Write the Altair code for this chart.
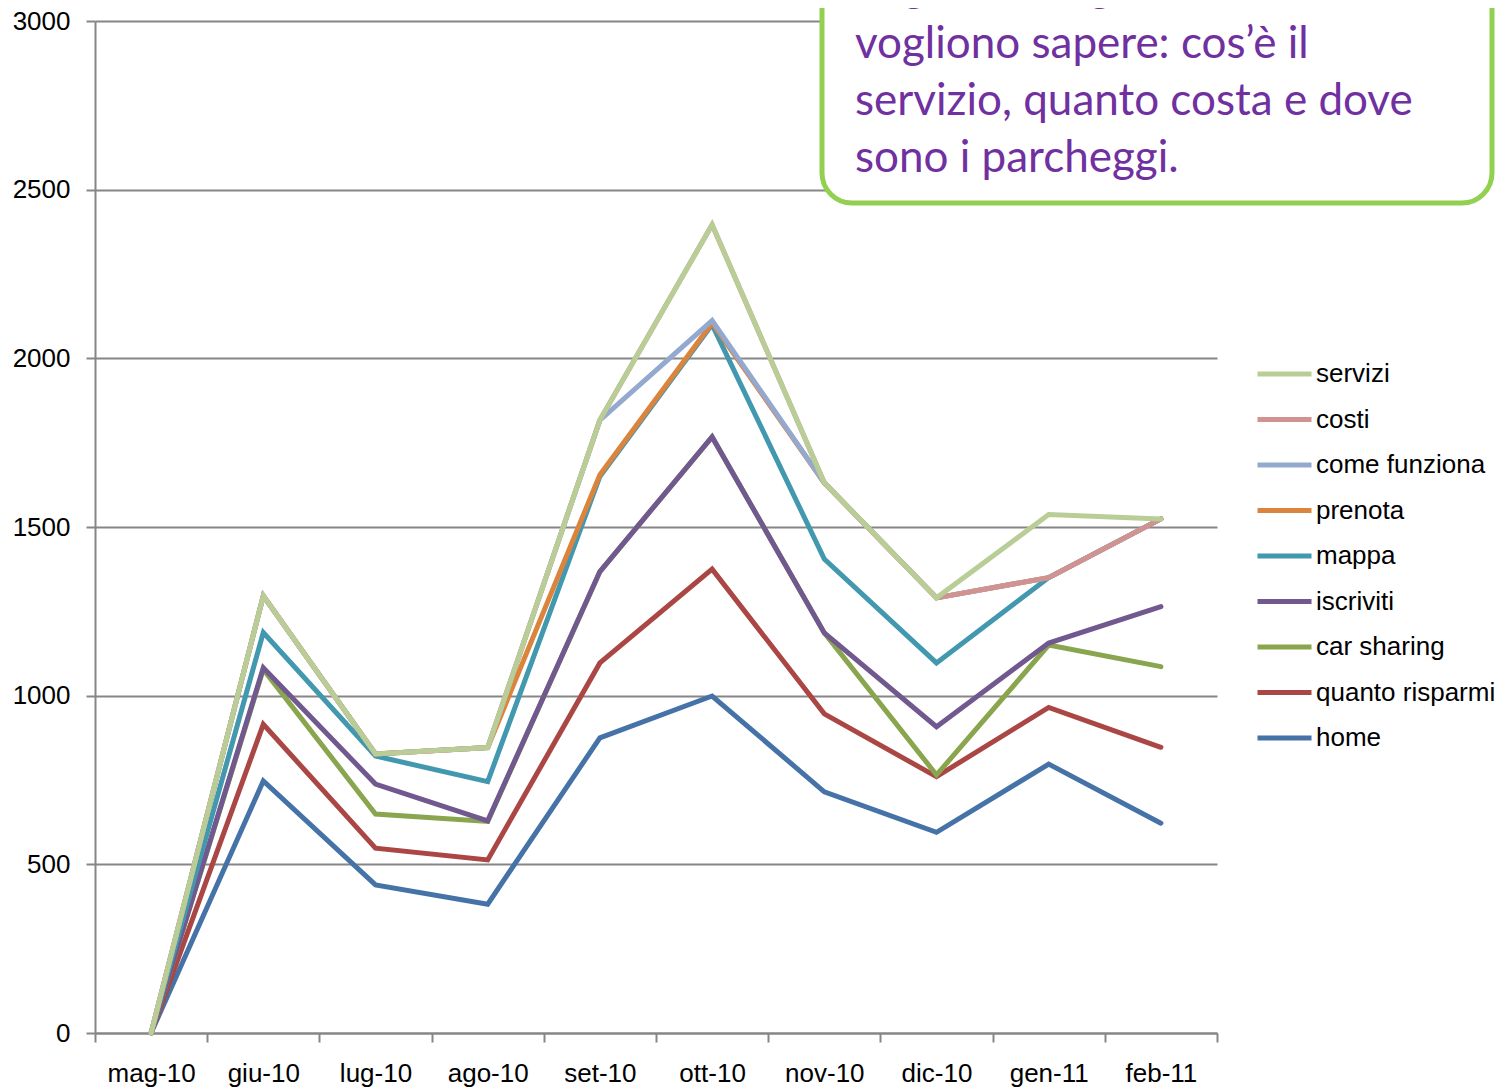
import altair as alt
import pandas as pd

# ---- data ----
months = ["mag-10", "giu-10", "lug-10", "ago-10", "set-10",
          "ott-10", "nov-10", "dic-10", "gen-11", "feb-11"]

series_names = ["servizi", "costi", "come funziona", "prenota", "mappa",
                "iscriviti", "car sharing", "quanto risparmi", "home"]
series_colors = ["#B9CD96", "#D19392", "#93A9CF", "#DB843D", "#4198AF",
                 "#71588F", "#89A54E", "#AA4643", "#4572A7"]

servizi         = [0, 1296, 827, 846, 1817, 2396, 1631, 1290, 1537, 1524]
costi           = [0, 1296, 827, 846, 1817, 2396, 1631, 1290, 1350, 1524]
come_funziona   = [0, 1296, 827, 846, 1817, 2112, 1631, 1290, 1350, 1524]
prenota         = [0, 1296, 827, 846, 1655, 2105, 1631, 1290, 1350, 1524]
mappa           = [0, 1187, 821, 745, 1650, 2100, 1405, 1097, 1350, 1524]
iscriviti       = [0, 1083, 738, 629, 1368, 1767, 1186, 908, 1156, 1264]
car_sharing     = [0, 1078, 649, 627, 1368, 1767, 1186, 765, 1150, 1086]
quanto_risparmi = [0, 915, 548, 513, 1097, 1375, 946, 760, 965, 847]
home            = [0, 747, 439, 382, 875, 999, 715, 595, 797, 622]

series_values = [servizi, costi, come_funziona, prenota, mappa,
                 iscriviti, car_sharing, quanto_risparmi, home]

y_ticks = [0, 500, 1000, 1500, 2000, 2500, 3000]

box_lines = ["In generale, gli utenti",
             "vogliono sapere: cos’è il",
             "servizio, quanto costa e dove",
             "sono i parcheggi."]

# ---- long table; home first so servizi is drawn on top ----
rows = []
for name, vals in reversed(list(zip(series_names, series_values))):
    for m, v in zip(months, vals):
        rows.append({"mese": m, "serie": name, "visite": v})
df = pd.DataFrame(rows)

FONT = "Liberation Sans"
GREY = "#868686"

lines = alt.Chart(df).mark_line(strokeWidth=5, strokeCap="round", strokeJoin="miter").encode(
    x=alt.X("mese:N", sort=months, bandPosition=0.5,
            scale=alt.Scale(type="band", paddingInner=0, paddingOuter=0),
            axis=alt.Axis(title=None, labelAngle=0, tickBand="extent", ticks=True,
                          tickSize=9, grid=False, labelPadding=18)),
    y=alt.Y("visite:Q", scale=alt.Scale(domain=[0, 3000], nice=False, zero=True),
            axis=alt.Axis(title=None, values=y_ticks, tickSize=9, labelPadding=16,
                          grid=True, format="d")),
    color=alt.Color("serie:N",
                    scale=alt.Scale(domain=series_names, range=series_colors),
                    legend=alt.Legend(title=None, orient="none", legendX=1160, legendY=340,
                                      symbolType="stroke", symbolSize=2916,
                                      symbolStrokeWidth=5, clipHeight=26, rowPadding=19.5,
                                      labelFontSize=26, labelFont=FONT, labelColor="black",
                                      labelOffset=2, padding=0, labelLimit=400)),
)

box = alt.Chart(pd.DataFrame({"k": [0]})).mark_rect(
    fill="white", stroke="#92D050", strokeWidth=5, cornerRadius=30
).encode(x=alt.value(727), x2=alt.value(1397), y=alt.value(-80), y2=alt.value(182))

box_text = alt.Chart(pd.DataFrame({"t": ["\n".join(box_lines)]})).mark_text(
    align="left", baseline="alphabetic", lineBreak="\n", lineHeight=57,
    font="Lato", fontSize=44, color="#7030A0"
).encode(x=alt.value(760), y=alt.value(-20), text="t:N")

chart = alt.layer(lines, box, box_text).properties(
    width=1122, height=1012,
    padding={"left": 87, "top": 13, "right": 278, "bottom": 56},
    autosize=alt.AutoSizeParams(type="none"),
).configure_view(stroke=None).configure_axis(
    labelFont=FONT, labelFontSize=26, labelColor="black",
    domainColor=GREY, domainWidth=2, tickColor=GREY, tickWidth=2,
    gridColor=GREY, gridWidth=2,
)

chart.save("out.html", embed_options={"renderer": "svg", "actions": False})
